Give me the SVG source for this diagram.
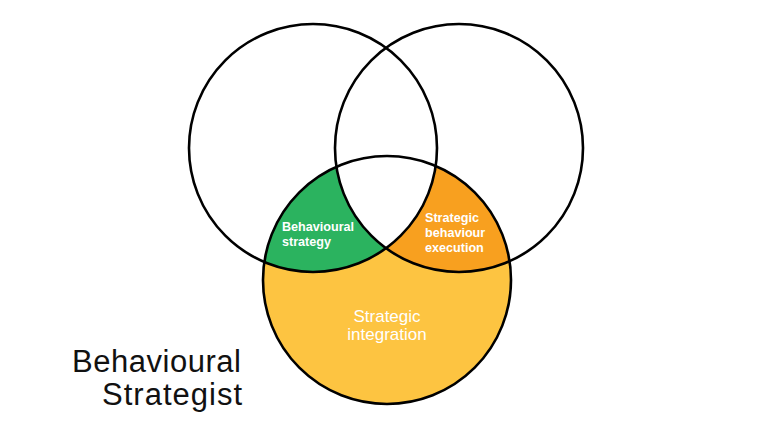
<svg xmlns="http://www.w3.org/2000/svg" width="768" height="438" viewBox="0 0 768 438">
  <style>
    .ring { fill: none; stroke: #000; stroke-width: 2.6; }
    .lbl { font-family: "Liberation Sans", Arial, sans-serif; fill: #fff; }
    .small { font-size: 12.6px; font-weight: bold; }
    .big { font-size: 17px; }
    .title { font-family: "Liberation Sans", Arial, sans-serif; font-size: 31px; fill: #111; }
  </style>
  <defs>
    <clipPath id="clipB"><circle cx="387" cy="280" r="124"/></clipPath>
    <clipPath id="clipL"><circle cx="313" cy="148" r="124"/></clipPath>
  </defs>
  <rect width="768" height="438" fill="#fff"/>
  <g id="fills">
    <circle cx="387" cy="280" r="124" fill="#fdc441"/>
    <g clip-path="url(#clipB)">
      <circle cx="313" cy="148" r="124" fill="#2bb35f"/>
      <circle cx="459" cy="148" r="124" fill="#f8a01f"/>
      <g clip-path="url(#clipL)">
        <circle cx="459" cy="148" r="124" fill="#fff"/>
      </g>
    </g>
  </g>
  <g id="circles">
    <circle id="circle-left" class="ring" cx="313" cy="148" r="124"/>
    <circle id="circle-right" class="ring" cx="459" cy="148" r="124"/>
    <circle id="circle-bottom" class="ring" cx="387" cy="280" r="124"/>
  </g>
  <g id="labels">
    <text class="lbl small" x="282" y="231">Behavioural</text>
    <text class="lbl small" x="282" y="246">strategy</text>
    <text class="lbl small" x="425" y="221.5">Strategic</text>
    <text class="lbl small" x="425" y="236.8">behaviour</text>
    <text class="lbl small" x="425" y="252">execution</text>
    <text class="lbl big" x="387" y="322" text-anchor="middle">Strategic</text>
    <text class="lbl big" x="387" y="340" text-anchor="middle">integration</text>
  </g>
  <g id="title">
    <text class="title" x="72" y="372" textLength="169" lengthAdjust="spacing">Behavioural</text>
    <text class="title" x="102" y="404.5" textLength="140" lengthAdjust="spacing">Strategist</text>
  </g>
</svg>
